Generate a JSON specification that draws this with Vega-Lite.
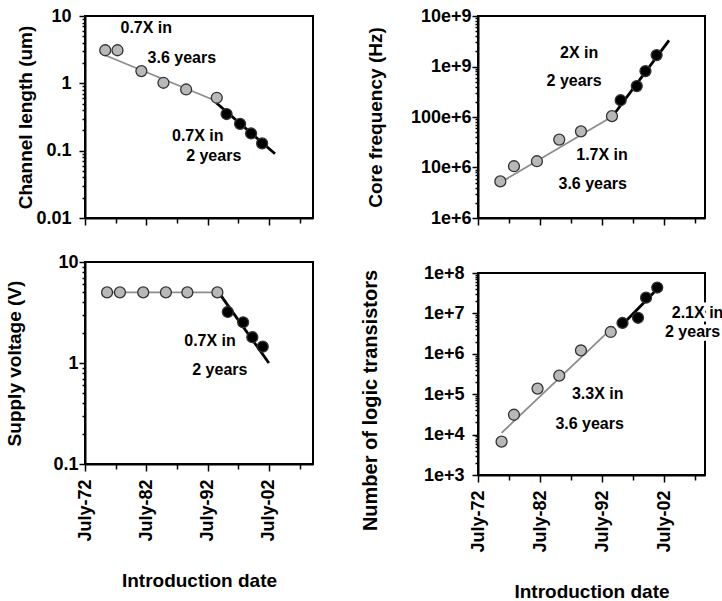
{
  "$schema": "https://vega.github.io/schema/vega-lite/v6.json",
  "padding": {"left": 4, "top": 6, "right": 2, "bottom": 2},
  "background": "white",
  "config": {
    "font": "Liberation Sans",
    "view": {"stroke": "black", "strokeWidth": 2},
    "axis": {
      "grid": false,
      "labelFont": "Liberation Sans",
      "labelFontWeight": "bold",
      "labelFontSize": 18,
      "labelColor": "black",
      "titleFont": "Liberation Sans",
      "titleFontWeight": "bold",
      "titleFontSize": 19,
      "titleColor": "black",
      "domainColor": "black",
      "domainWidth": 2,
      "tickColor": "black",
      "tickWidth": 1.5
    },
    "text": {"font": "Liberation Sans", "fontWeight": "bold", "fontSize": 16}
  },
  "datasets": {
    "pts": [
      {"panel": "CL", "seg": "old", "year": 1975.8, "value": 3.1},
      {"panel": "CL", "seg": "old", "year": 1977.8, "value": 3.1},
      {"panel": "CL", "seg": "old", "year": 1981.7, "value": 1.52},
      {"panel": "CL", "seg": "old", "year": 1985.3, "value": 1.02},
      {"panel": "CL", "seg": "old", "year": 1989.0, "value": 0.81},
      {"panel": "CL", "seg": "old", "year": 1994.0, "value": 0.61},
      {"panel": "CL", "seg": "new", "year": 1995.6, "value": 0.35},
      {"panel": "CL", "seg": "new", "year": 1997.8, "value": 0.25},
      {"panel": "CL", "seg": "new", "year": 1999.6, "value": 0.18},
      {"panel": "CL", "seg": "new", "year": 2001.4, "value": 0.128},
      {"panel": "CF", "seg": "old", "year": 1976.1, "value": 5300000},
      {"panel": "CF", "seg": "old", "year": 1978.3, "value": 10600000},
      {"panel": "CF", "seg": "old", "year": 1982.0, "value": 13300000},
      {"panel": "CF", "seg": "old", "year": 1985.6, "value": 35700000},
      {"panel": "CF", "seg": "old", "year": 1989.1, "value": 52000000},
      {"panel": "CF", "seg": "old", "year": 1994.1, "value": 104000000},
      {"panel": "CF", "seg": "new", "year": 1995.5, "value": 215000000},
      {"panel": "CF", "seg": "new", "year": 1998.1, "value": 410000000},
      {"panel": "CF", "seg": "new", "year": 1999.5, "value": 810000000},
      {"panel": "CF", "seg": "new", "year": 2001.3, "value": 1680000000},
      {"panel": "SV", "seg": "old", "year": 1976.1, "value": 5.0},
      {"panel": "SV", "seg": "old", "year": 1978.2, "value": 5.0},
      {"panel": "SV", "seg": "old", "year": 1982.0, "value": 5.0},
      {"panel": "SV", "seg": "old", "year": 1985.7, "value": 5.0},
      {"panel": "SV", "seg": "old", "year": 1989.2, "value": 5.0},
      {"panel": "SV", "seg": "old", "year": 1994.1, "value": 5.0},
      {"panel": "SV", "seg": "new", "year": 1995.8, "value": 3.2},
      {"panel": "SV", "seg": "new", "year": 1998.3, "value": 2.53},
      {"panel": "SV", "seg": "new", "year": 1999.8, "value": 1.8},
      {"panel": "SV", "seg": "new", "year": 2001.5, "value": 1.45},
      {"panel": "NT", "seg": "old", "year": 1976.3, "value": 6700},
      {"panel": "NT", "seg": "old", "year": 1978.3, "value": 31000},
      {"panel": "NT", "seg": "old", "year": 1982.1, "value": 138000},
      {"panel": "NT", "seg": "old", "year": 1985.6, "value": 287000},
      {"panel": "NT", "seg": "old", "year": 1989.1, "value": 1210000},
      {"panel": "NT", "seg": "old", "year": 1993.9, "value": 3470000},
      {"panel": "NT", "seg": "new", "year": 1995.8, "value": 5800000},
      {"panel": "NT", "seg": "new", "year": 1998.3, "value": 7800000},
      {"panel": "NT", "seg": "new", "year": 1999.6, "value": 24500000},
      {"panel": "NT", "seg": "new", "year": 2001.4, "value": 43700000}
    ],
    "fits": [
      {"panel": "CL", "seg": "old", "year": 1975.4, "value": 2.7},
      {"panel": "CL", "seg": "old", "year": 1993.6, "value": 0.56},
      {"panel": "CL", "seg": "new", "year": 1993.9, "value": 0.515},
      {"panel": "CL", "seg": "new", "year": 2003.5, "value": 0.09},
      {"panel": "CF", "seg": "old", "year": 1975.7, "value": 4700000},
      {"panel": "CF", "seg": "old", "year": 1994.7, "value": 112000000},
      {"panel": "CF", "seg": "new", "year": 1994.1, "value": 100000000},
      {"panel": "CF", "seg": "new", "year": 2003.3, "value": 3300000000},
      {"panel": "SV", "seg": "old", "year": 1976.1, "value": 5.0},
      {"panel": "SV", "seg": "old", "year": 1994.3, "value": 5.0},
      {"panel": "SV", "seg": "new", "year": 1994.3, "value": 5.0},
      {"panel": "SV", "seg": "new", "year": 2002.5, "value": 1.0},
      {"panel": "NT", "seg": "old", "year": 1976.3, "value": 11000},
      {"panel": "NT", "seg": "old", "year": 1994.4, "value": 4800000},
      {"panel": "NT", "seg": "new", "year": 1995.8, "value": 5300000},
      {"panel": "NT", "seg": "new", "year": 2002.0, "value": 50000000}
    ],
    "notes": [
      {"panel": "CL", "year": 1982.5, "value": 6.6, "text": "0.7X in"},
      {"panel": "CL", "year": 1988.3, "value": 2.38, "text": "3.6 years"},
      {"panel": "CL", "year": 1990.9, "value": 0.165, "text": "0.7X in"},
      {"panel": "CL", "year": 1993.5, "value": 0.083, "text": "2 years"},
      {"panel": "CF", "year": 1988.8, "value": 1870000000, "text": "2X in"},
      {"panel": "CF", "year": 1988.0, "value": 510000000, "text": "2 years"},
      {"panel": "CF", "year": 1992.5, "value": 17500000, "text": "1.7X in"},
      {"panel": "CF", "year": 1991.0, "value": 4700000, "text": "3.6 years"},
      {"panel": "SV", "year": 1992.9, "value": 1.67, "text": "0.7X in"},
      {"panel": "SV", "year": 1994.5, "value": 0.86, "text": "2 years"},
      {"panel": "NT", "year": 1991.8, "value": 103000, "text": "3.3X in"},
      {"panel": "NT", "year": 1990.5, "value": 18400, "text": "3.6 years"},
      {"panel": "NT", "year": 2007.9, "value": 10300000, "text": "2.1X in"},
      {"panel": "NT", "year": 2007.1, "value": 3470000, "text": "2 years"}
    ]
  },
  "spacing": 393,
  "bounds": "flush",
  "hconcat": [
    {
      "spacing": 44,
      "bounds": "flush",
      "vconcat": [
        {
          "width": 228,
          "height": 202,
          "encoding": {
            "x": {"field": "year", "type": "quantitative", "scale": {"domain": [1972.5, 2009.7], "nice": false, "zero": false},
              "axis": {"values": [1972.5, 1977.5, 1982.5, 1987.5, 1992.5, 1997.5, 2002.5, 2007.5], "labels": false, "title": null,
                "tickSize": {"condition": {"test": "(datum.value - 1972.5) % 10 == 0", "value": 7}, "value": 5}}},
            "y": {"field": "value", "type": "quantitative", "scale": {"type": "log", "domain": [0.01, 10], "nice": false},
              "axis": {"title": "Channel length (um)", "values": [0.01,0.02,0.03,0.04,0.05,0.06,0.07,0.08,0.09,0.1,0.2,0.3,0.4,0.5,0.6,0.7,0.8,0.9,1,2,3,4,5,6,7,8,9,10],
                "labelExpr": "abs(log(datum.value)/LN10 - round(log(datum.value)/LN10)) < 0.000001 ? toString(datum.value) : ''",
                "tickSize": {"condition": {"test": "abs(log(datum.value)/LN10 - round(log(datum.value)/LN10)) < 0.000001", "value": 6}, "value": 3},
                "labelPadding": 8, "minExtent": 40, "maxExtent": 40, "titlePadding": 10}}
          },
          "layer": [
            {"data": {"name": "fits"}, "transform": [{"filter": "datum.panel == 'CL'"}], "mark": {"type": "line"},
              "encoding": {"detail": {"field": "seg"},
                "stroke": {"field": "seg", "type": "nominal", "scale": {"domain": ["old", "new"], "range": ["#8c8c8c", "black"]}, "legend": null},
                "strokeWidth": {"field": "seg", "type": "nominal", "scale": {"domain": ["old", "new"], "range": [1.8, 2.8]}, "legend": null}}},
            {"data": {"name": "pts"}, "transform": [{"filter": "datum.panel == 'CL'"}], "mark": {"type": "point", "shape": "circle", "filled": true, "size": 120, "opacity": 1, "stroke": "#333", "strokeWidth": 1.3},
              "encoding": {"fill": {"field": "seg", "type": "nominal", "scale": {"domain": ["old", "new"], "range": ["#b8b8b8", "black"]}, "legend": null}}},
            {"data": {"name": "notes"}, "transform": [{"filter": "datum.panel == 'CL'"}], "mark": {"type": "text", "align": "center", "baseline": "middle", "fill": "black"},
              "encoding": {"text": {"field": "text"}}}
          ]
        },
        {
          "width": 228,
          "height": 202,
          "encoding": {
            "x": {"field": "year", "type": "quantitative", "scale": {"domain": [1972.5, 2009.7], "nice": false, "zero": false},
              "axis": {"values": [1972.5, 1977.5, 1982.5, 1987.5, 1992.5, 1997.5, 2002.5, 2007.5], "title": "Introduction date",
                "labelExpr": "(datum.value - 1972.5) % 10 == 0 ? 'July-' + substring(toString(floor(datum.value)), 2, 4) : ''",
                "labelAngle": 270, "labelPadding": 8, "minExtent": 80, "maxExtent": 80, "titlePadding": 27,
                "tickSize": {"condition": {"test": "(datum.value - 1972.5) % 10 == 0", "value": 7}, "value": 5}}},
            "y": {"field": "value", "type": "quantitative", "scale": {"type": "log", "domain": [0.1, 10], "nice": false},
              "axis": {"title": "Supply voltage (V)", "values": [0.1,0.2,0.3,0.4,0.5,0.6,0.7,0.8,0.9,1,2,3,4,5,6,7,8,9,10],
                "labelExpr": "abs(log(datum.value)/LN10 - round(log(datum.value)/LN10)) < 0.000001 ? toString(datum.value) : ''",
                "tickSize": {"condition": {"test": "abs(log(datum.value)/LN10 - round(log(datum.value)/LN10)) < 0.000001", "value": 6}, "value": 3},
                "labelPadding": 1, "minExtent": 40, "maxExtent": 40, "titlePadding": 21}}
          },
          "layer": [
            {"data": {"name": "fits"}, "transform": [{"filter": "datum.panel == 'SV'"}], "mark": {"type": "line"},
              "encoding": {"detail": {"field": "seg"},
                "stroke": {"field": "seg", "type": "nominal", "scale": {"domain": ["old", "new"], "range": ["#8c8c8c", "black"]}, "legend": null},
                "strokeWidth": {"field": "seg", "type": "nominal", "scale": {"domain": ["old", "new"], "range": [1.8, 2.8]}, "legend": null}}},
            {"data": {"name": "pts"}, "transform": [{"filter": "datum.panel == 'SV'"}], "mark": {"type": "point", "shape": "circle", "filled": true, "size": 120, "opacity": 1, "stroke": "#333", "strokeWidth": 1.3},
              "encoding": {"fill": {"field": "seg", "type": "nominal", "scale": {"domain": ["old", "new"], "range": ["#b8b8b8", "black"]}, "legend": null}}},
            {"data": {"name": "notes"}, "transform": [{"filter": "datum.panel == 'SV'"}], "mark": {"type": "text", "align": "center", "baseline": "middle", "fill": "black"},
              "encoding": {"text": {"field": "text"}}}
          ]
        }
      ]
    },
    {
      "spacing": 55,
      "bounds": "flush",
      "vconcat": [
        {
          "width": 227,
          "height": 202,
          "encoding": {
            "x": {"field": "year", "type": "quantitative", "scale": {"domain": [1972.5, 2009.1], "nice": false, "zero": false},
              "axis": {"values": [1972.5, 1977.5, 1982.5, 1987.5, 1992.5, 1997.5, 2002.5, 2007.5], "labels": false, "title": null,
                "tickSize": {"condition": {"test": "(datum.value - 1972.5) % 10 == 0", "value": 7}, "value": 5}}},
            "y": {"field": "value", "type": "quantitative", "scale": {"type": "log", "domain": [1000000, 10000000000], "nice": false},
              "axis": {"title": "Core frequency (Hz)", "values": [1000000,2000000,3000000,4000000,5000000,6000000,7000000,8000000,9000000,10000000,20000000,30000000,40000000,50000000,60000000,70000000,80000000,90000000,100000000,200000000,300000000,400000000,500000000,600000000,700000000,800000000,900000000,1000000000,2000000000,3000000000,4000000000,5000000000,6000000000,7000000000,8000000000,9000000000,10000000000],
                "labelExpr": "datum.value == 1000000 ? '1e+6' : datum.value == 10000000 ? '10e+6' : datum.value == 100000000 ? '100e+6' : datum.value == 1000000000 ? '1e+9' : datum.value == 10000000000 ? '10e+9' : ''",
                "tickSize": {"condition": {"test": "abs(log(datum.value)/LN10 - round(log(datum.value)/LN10)) < 0.000001", "value": 6}, "value": 3},
                "labelPadding": 1, "minExtent": 80, "maxExtent": 80, "titlePadding": 13}}
          },
          "layer": [
            {"data": {"name": "fits"}, "transform": [{"filter": "datum.panel == 'CF'"}], "mark": {"type": "line"},
              "encoding": {"detail": {"field": "seg"},
                "stroke": {"field": "seg", "type": "nominal", "scale": {"domain": ["old", "new"], "range": ["#8c8c8c", "black"]}, "legend": null},
                "strokeWidth": {"field": "seg", "type": "nominal", "scale": {"domain": ["old", "new"], "range": [1.8, 2.8]}, "legend": null}}},
            {"data": {"name": "pts"}, "transform": [{"filter": "datum.panel == 'CF'"}], "mark": {"type": "point", "shape": "circle", "filled": true, "size": 120, "opacity": 1, "stroke": "#333", "strokeWidth": 1.3},
              "encoding": {"fill": {"field": "seg", "type": "nominal", "scale": {"domain": ["old", "new"], "range": ["#b8b8b8", "black"]}, "legend": null}}},
            {"data": {"name": "notes"}, "transform": [{"filter": "datum.panel == 'CF'"}], "mark": {"type": "text", "align": "center", "baseline": "middle", "fill": "black"},
              "encoding": {"text": {"field": "text"}}}
          ]
        },
        {
          "width": 227,
          "height": 202,
          "encoding": {
            "x": {"field": "year", "type": "quantitative", "scale": {"domain": [1972.5, 2009.1], "nice": false, "zero": false},
              "axis": {"values": [1972.5, 1977.5, 1982.5, 1987.5, 1992.5, 1997.5, 2002.5, 2007.5], "title": "Introduction date",
                "labelExpr": "(datum.value - 1972.5) % 10 == 0 ? 'July-' + substring(toString(floor(datum.value)), 2, 4) : ''",
                "labelAngle": 270, "labelPadding": 8, "minExtent": 80, "maxExtent": 80, "titlePadding": 27,
                "tickSize": {"condition": {"test": "(datum.value - 1972.5) % 10 == 0", "value": 7}, "value": 5}}},
            "y": {"field": "value", "type": "quantitative", "scale": {"type": "log", "domain": [1000, 100000000], "nice": false},
              "axis": {"title": "Number of logic transistors", "titleFontSize": 20, "titleY": 127,
                "values": [1000,2000,3000,4000,5000,6000,7000,8000,9000,10000,20000,30000,40000,50000,60000,70000,80000,90000,100000,200000,300000,400000,500000,600000,700000,800000,900000,1000000,2000000,3000000,4000000,5000000,6000000,7000000,8000000,9000000,10000000,20000000,30000000,40000000,50000000,60000000,70000000,80000000,90000000,100000000],
                "labelExpr": "abs(log(datum.value)/LN10 - round(log(datum.value)/LN10)) < 0.000001 ? '1e+' + round(log(datum.value)/LN10) : ''",
                "tickSize": {"condition": {"test": "abs(log(datum.value)/LN10 - round(log(datum.value)/LN10)) < 0.000001", "value": 6}, "value": 3},
                "labelPadding": 8, "minExtent": 80, "maxExtent": 80, "titlePadding": 18}}
          },
          "layer": [
            {"data": {"name": "fits"}, "transform": [{"filter": "datum.panel == 'NT'"}], "mark": {"type": "line"},
              "encoding": {"detail": {"field": "seg"},
                "stroke": {"field": "seg", "type": "nominal", "scale": {"domain": ["old", "new"], "range": ["#8c8c8c", "black"]}, "legend": null},
                "strokeWidth": {"field": "seg", "type": "nominal", "scale": {"domain": ["old", "new"], "range": [1.8, 2.8]}, "legend": null}}},
            {"data": {"name": "pts"}, "transform": [{"filter": "datum.panel == 'NT'"}], "mark": {"type": "point", "shape": "circle", "filled": true, "size": 120, "opacity": 1, "stroke": "#333", "strokeWidth": 1.3},
              "encoding": {"fill": {"field": "seg", "type": "nominal", "scale": {"domain": ["old", "new"], "range": ["#b8b8b8", "black"]}, "legend": null}}},
            {"data": {"name": "notes"}, "transform": [{"filter": "datum.panel == 'NT'"}], "mark": {"type": "text", "align": "center", "baseline": "middle", "stroke": "white", "strokeWidth": 7, "fill": "white"},
              "encoding": {"text": {"field": "text"}}},
            {"data": {"name": "notes"}, "transform": [{"filter": "datum.panel == 'NT'"}], "mark": {"type": "text", "align": "center", "baseline": "middle", "fill": "black"},
              "encoding": {"text": {"field": "text"}}}
          ]
        }
      ]
    }
  ]
}
